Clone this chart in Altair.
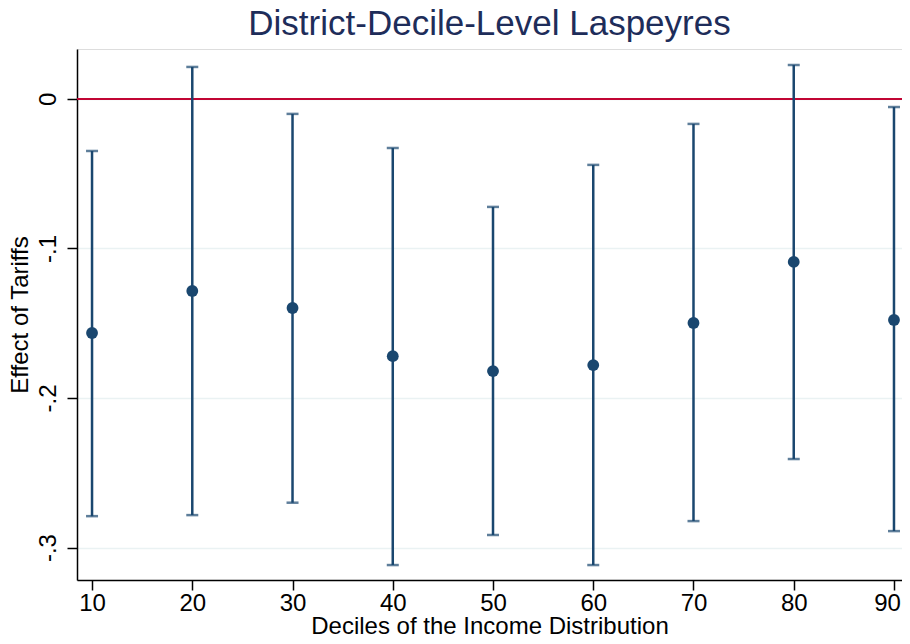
import altair as alt
import pandas as pd

deciles = [10, 20, 30, 40, 50, 60, 70, 80, 90]
estimate = [-0.1565, -0.1284, -0.1398, -0.1720, -0.1820, -0.1780, -0.1498, -0.1090, -0.1478]
ci_low = [-0.2790, -0.2783, -0.2700, -0.3117, -0.2916, -0.3117, -0.2823, -0.2408, -0.2890]
ci_high = [-0.0348, 0.0214, -0.0100, -0.0328, -0.0722, -0.0441, -0.0167, 0.0227, -0.0054]
y_ticks = [0, -0.1, -0.2, -0.3]
x_ticks = [10, 20, 30, 40, 50, 60, 70, 80, 90]

df = pd.DataFrame({"decile": deciles, "est": estimate, "lo": ci_low, "hi": ci_high})

navy = "#1a476f"
font = "Liberation Sans"

xscale = alt.Scale(domain=[8.5, 90.8], nice=False, zero=False)
yscale = alt.Scale(domain=[-0.3217, 0.0334], nice=False, zero=False)

xaxis = alt.Axis(values=x_ticks, title="Deciles of the Income Distribution", grid=False,
                 tickSize=10, labelPadding=1, titlePadding=-1, labelFontSize=24, titleFontSize=24,
                 labelOffset={"condition": {"test": "datum.value == 90", "value": -7}, "value": 0},
                 labelFont=font, titleFont=font, labelColor="black", titleColor="black",
                 titleFontWeight="normal", domainColor="black", tickColor="black",
                 domainWidth=1.5, tickWidth=1.5)
yaxis = alt.Axis(values=y_ticks, title="Effect of Tariffs", grid=True, gridColor="#eaf2f3",
                 gridWidth=1.5, tickSize=10, labelPadding=7, labelAngle=270,
                 labelAlign="center", labelBaseline="bottom",
                 labelExpr="datum.value == 0 ? '0' : '-.' + round(-datum.value * 10)",
                 labelFontSize=24, titleFontSize=24, labelFont=font, titleFont=font,
                 labelColor="black", titleColor="black", titleFontWeight="normal",
                 titlePadding=4, domainColor="black", tickColor="black",
                 domainWidth=1.5, tickWidth=1.5)

base = alt.Chart(df)

zero = alt.Chart(pd.DataFrame({"y": [0]})).mark_rule(color="#c10534", strokeWidth=2).encode(
    y=alt.Y("y:Q", scale=yscale, axis=yaxis))

bars = base.mark_rule(color=navy, strokeWidth=2.5).encode(
    x=alt.X("decile:Q", scale=xscale, axis=xaxis),
    y=alt.Y("lo:Q", scale=yscale, axis=yaxis),
    y2="hi:Q")

cap_lo = base.mark_tick(color=navy, orient="horizontal", size=12, thickness=2.5).encode(
    x=alt.X("decile:Q", scale=xscale), y=alt.Y("lo:Q", scale=yscale))
cap_hi = base.mark_tick(color=navy, orient="horizontal", size=12, thickness=2.5).encode(
    x=alt.X("decile:Q", scale=xscale), y=alt.Y("hi:Q", scale=yscale))

pts = base.mark_point(filled=True, color=navy, size=140, opacity=1).encode(
    x=alt.X("decile:Q", scale=xscale), y=alt.Y("est:Q", scale=yscale))

chart = alt.layer(zero, bars, cap_lo, cap_hi, pts).properties(
    width=825, height=531,
    title=alt.TitleParams("District-Decile-Level Laspeyres", fontSize=35, font=font,
                          color="#1e2d5a", fontWeight="normal", anchor="middle", offset=7),
    autosize=alt.AutoSizeParams(type="none"),
    padding={"left": 69, "top": 41, "right": 0, "bottom": 56},
).configure_view(stroke=None).configure(background="white")

chart.save("out.html", embed_options={"renderer": "svg", "actions": False})
